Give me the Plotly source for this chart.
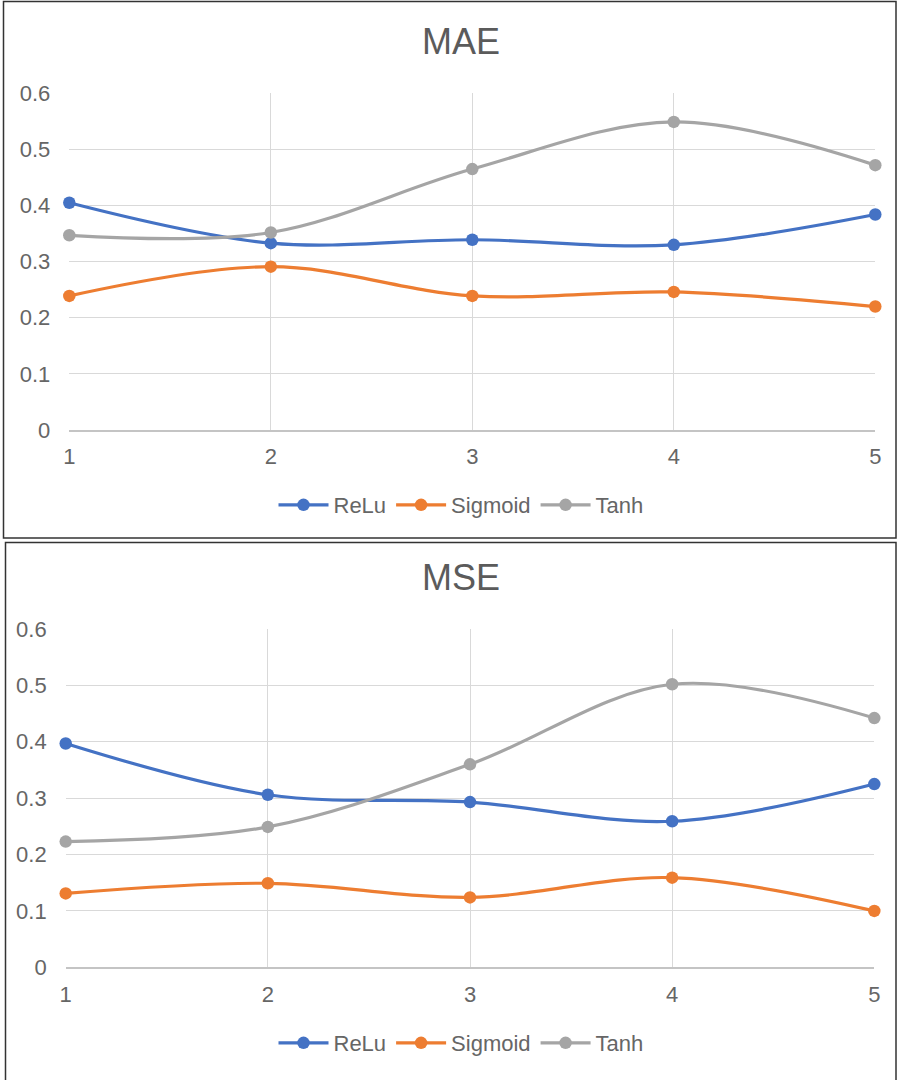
import plotly.graph_objects as go

W, H = 899, 1080

epochs = [1, 2, 3, 4, 5]
series_names = ["ReLu", "Sigmoid", "Tanh"]
colors = ["#4472C4", "#ED7D31", "#A5A5A5"]

mae_relu = [0.405, 0.333, 0.339, 0.330, 0.384]
mae_sigmoid = [0.239, 0.291, 0.239, 0.246, 0.220]
mae_tanh = [0.347, 0.352, 0.465, 0.549, 0.472]

mse_relu = [0.397, 0.306, 0.293, 0.259, 0.325]
mse_sigmoid = [0.131, 0.149, 0.124, 0.159, 0.100]
mse_tanh = [0.223, 0.249, 0.360, 0.502, 0.442]

y_ticks = [0, 0.1, 0.2, 0.3, 0.4, 0.5, 0.6]
y_tick_text = ["0", "0.1", "0.2", "0.3", "0.4", "0.5", "0.6"]

FONT = "Liberation Sans, Arial, sans-serif"
TXT = "#666666"
TITLE = "#5b5b5b"
GRID = "#d9d9d9"


def px(x):
    return x / W


def py(y):
    return 1 - y / H


fig = go.Figure()

panels = [
    ("MAE", [mae_relu, mae_sigmoid, mae_tanh], "x", "y", "legend",
     (69.3, 875.3), (430, 93.3), 42, 505),
    ("MSE", [mse_relu, mse_sigmoid, mse_tanh], "x2", "y2", "legend2",
     (65.7, 874.3), (967.3, 629), 577, 1043),
]

layout = dict(
    width=W, height=H,
    margin=dict(l=0, r=0, t=0, b=0, pad=0, autoexpand=False),
    paper_bgcolor="white", plot_bgcolor="white",
    font=dict(family=FONT, color=TXT, size=22),
    hovermode=False,
    annotations=[], shapes=[],
)

for i, (title, vals, xa, ya, lg, (xl, xr), (yb, yt), ty, ly) in enumerate(panels):
    for name, v, c in zip(series_names, vals, colors):
        fig.add_trace(go.Scatter(
            x=epochs, y=v, name=name, mode="lines+markers",
            line=dict(color=c, width=3.2, shape="spline", smoothing=1),
            marker=dict(color=c, size=12.5),
            xaxis=xa, yaxis=ya, legend=lg, cliponaxis=False,
        ))
    sfx = "" if i == 0 else "2"
    layout["xaxis" + sfx] = dict(
        domain=[px(xl), px(xr)], range=[1, 5], anchor=ya,
        tickvals=epochs, ticktext=[str(e) for e in epochs],
        showgrid=True, gridcolor=GRID, gridwidth=1.3,
        showline=True, linecolor="#c4c4c4", linewidth=1.6, mirror=False,
        zeroline=False, ticks="", ticklabelstandoff=6, automargin=False,
        tickfont=dict(size=22, color=TXT, family=FONT),
    )
    layout["yaxis" + sfx] = dict(
        domain=[py(yb), py(yt)], range=[0, 0.6], anchor=xa,
        tickvals=y_ticks, ticktext=y_tick_text,
        showgrid=True, gridcolor=GRID, gridwidth=1.3,
        zeroline=False, showline=False, ticks="", ticklabelstandoff=18,
        automargin=False,
        tickfont=dict(size=22, color=TXT, family=FONT),
    )
    layout[lg] = dict(
        orientation="h", x=px(461), y=py(ly), xanchor="center", yanchor="middle",
        font=dict(size=22, color=TXT, family=FONT), bgcolor="rgba(0,0,0,0)",
        itemwidth=50, tracegroupgap=0,
    )
    layout["annotations"].append(dict(
        text=title, x=px(460.5), y=py(ty), xref="paper", yref="paper",
        xanchor="center", yanchor="middle", showarrow=False,
        font=dict(size=36, color=TITLE, family=FONT),
    ))

layout["shapes"] = [
    dict(type="rect", xref="paper", yref="paper",
         x0=px(3.5), x1=px(896), y0=py(538), y1=py(1.5),
         line=dict(color="#333333", width=1.5)),
    dict(type="rect", xref="paper", yref="paper",
         x0=px(5.5), x1=px(896), y0=py(1100), y1=py(542.5),
         line=dict(color="#333333", width=1.5)),
]

fig.update_layout(**layout)
fig.write_html("out.html")
